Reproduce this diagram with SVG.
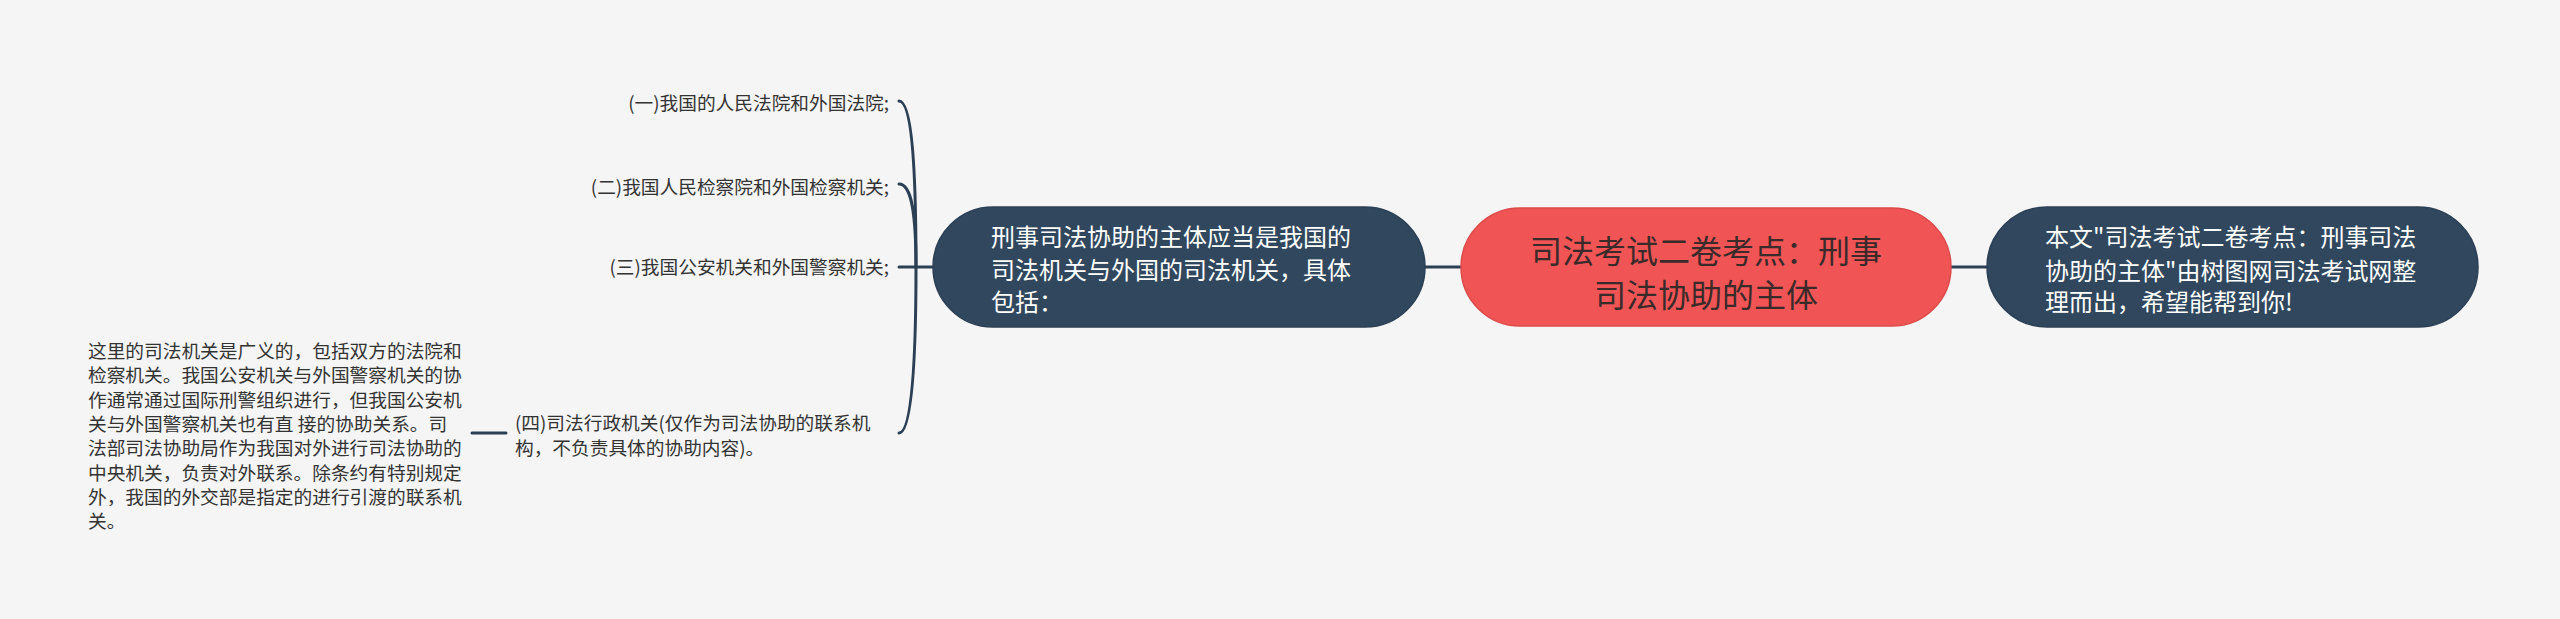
<svg xmlns="http://www.w3.org/2000/svg" width="2560" height="619" viewBox="0 0 2560 619">
<style>
.bg{fill:#f5f5f5}
.dark{fill:#30475e;stroke:#2b3f55;stroke-width:1.5}
.red{fill:#f05454;stroke:#dc4a4a;stroke-width:1.5}
.conn{fill:none;stroke:#2b3f55;stroke-width:3;stroke-linecap:round}
text{font-family:"Noto Sans CJK SC","Noto Sans",sans-serif}
.t24{font-size:24px;fill:#ffffff}
.t32{font-size:32px;fill:#3a2a2a}
.t19{font-size:18.7px;fill:#333333}
</style>
<rect class="bg" x="0" y="0" width="2560" height="619"/>
<g id="connectors">
<line class="conn" x1="1425" y1="267" x2="1461" y2="267"/>
<line class="conn" x1="1951" y1="267" x2="1987" y2="267"/>
<path class="conn" d="M933 267 L916 267"/>
<path class="conn" d="M916 267 C916 170 912 101 899 101"/>
<path class="conn" d="M916 267 C916 215 912 184 899 184"/>
<path class="conn" d="M916 267 L899 267"/>
<path class="conn" d="M916 267 C916 360 912 433 899 433"/>
<line class="conn" x1="472" y1="433" x2="506" y2="433"/>
</g>
<g id="root">
<rect class="red" x="1461" y="208" width="490" height="118" rx="59"/>
<text class="t32" text-anchor="middle"><tspan x="1706" y="263">司法考试二卷考点：刑事</tspan><tspan x="1706" y="307">司法协助的主体</tspan></text>
</g>
<g id="node-main">
<rect class="dark" x="933" y="207" width="492" height="120" rx="60"/>
<text class="t24"><tspan x="991" y="246">刑事司法协助的主体应当是我国的</tspan><tspan x="991" y="279">司法机关与外国的司法机关，具体</tspan><tspan x="991" y="311">包括：</tspan></text>
</g>
<g id="node-source">
<rect class="dark" x="1987" y="207" width="491" height="120" rx="60"/>
<text class="t24"><tspan x="2045" y="246">本文"司法考试二卷考点：刑事司法</tspan><tspan x="2045" y="280">协助的主体"由树图网司法考试网整</tspan><tspan x="2045" y="311">理而出，希望能帮到你!</tspan></text>
</g>
<g id="item-1">
<text class="t19" x="889" y="110" text-anchor="end">(一)我国的人民法院和外国法院;</text>
</g>
<g id="item-2">
<text class="t19" x="889" y="194" text-anchor="end">(二)我国人民检察院和外国检察机关;</text>
</g>
<g id="item-3">
<text class="t19" x="889" y="274" text-anchor="end">(三)我国公安机关和外国警察机关;</text>
</g>
<g id="item-4">
<text class="t19"><tspan x="515" y="430">(四)司法行政机关(仅作为司法协助的联系机</tspan><tspan x="515" y="455">构，不负责具体的协助内容)。</tspan></text>
</g>
<g id="note">
<text class="t19" xml:space="preserve"><tspan x="88" y="358">这里的司法机关是广义的，包括双方的法院和</tspan><tspan x="88" y="382.3">检察机关。我国公安机关与外国警察机关的协</tspan><tspan x="88" y="406.6">作通常通过国际刑警组织进行，但我国公安机</tspan><tspan x="88" y="430.9">关与外国警察机关也有直 接的协助关系。司</tspan><tspan x="88" y="455.2">法部司法协助局作为我国对外进行司法协助的</tspan><tspan x="88" y="479.5">中央机关，负责对外联系。除条约有特别规定</tspan><tspan x="88" y="503.8">外，我国的外交部是指定的进行引渡的联系机</tspan><tspan x="88" y="528.1">关。</tspan></text>
</g>
</svg>
